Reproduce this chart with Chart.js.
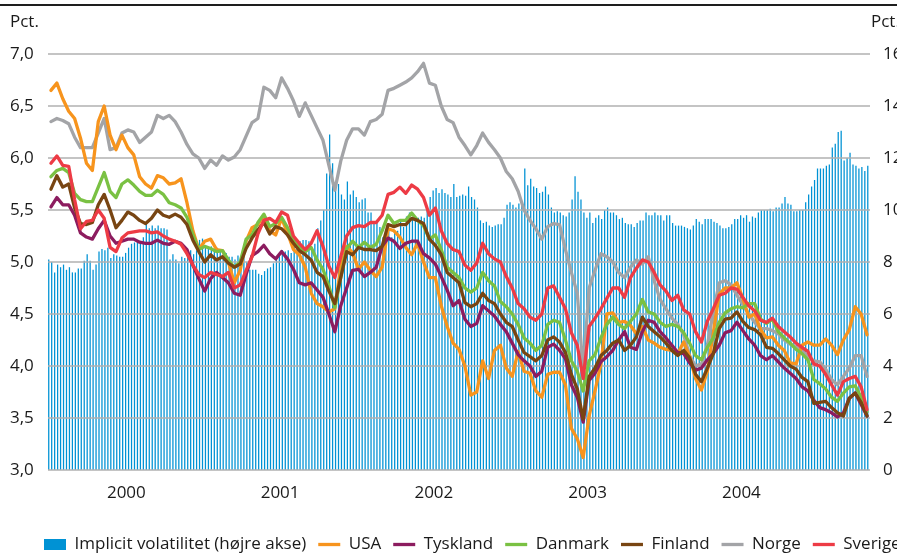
<!DOCTYPE html>
<html>
<head>
<meta charset="utf-8">
<script src="https://cdn.jsdelivr.net/npm/chart.js@4/dist/chart.umd.min.js"></script>
<style>
  html, body { margin: 0; padding: 0; background: #fff; overflow: hidden; }
  #wrap { width: 897px; height: 553px; overflow: hidden; position: relative; }
  canvas { display: block; }
</style>
</head>
<body>
<div id="wrap"><canvas id="chart" width="1000" height="563"></canvas></div>
<script>
// Weekly observations from the first Friday of 2000
const firstWeek = '2000-01-07';
const yearLabels = ['2000', '2001', '2002', '2003', '2004'];

// Implicit volatilitet, pct. (right axis), one value per week
const volatility = [
  8.1, 8.0, 7.6, 7.9, 7.8, 7.9, 7.7, 7.8, 7.6, 7.6,
  7.75, 7.75, 8.05, 8.3, 8.05, 7.7, 7.9, 8.4, 8.5, 8.45,
  8.55, 8.15, 8.3, 8.25, 8.2, 8.2, 8.35, 8.55, 8.7, 8.75,
  8.85, 8.75, 8.95, 9.55, 9.3, 9.4, 9.3, 9.4, 9.3, 9.3,
  9.25, 8.1, 8.3, 8.1, 7.95, 8.2, 8.15, 8.45, 8.45, 8.3,
  8.45, 8.85, 8.9, 8.65, 8.5, 8.6, 8.45, 8.55, 8.4, 8.4,
  8.35, 8.2, 8.2, 8.1, 8.25, 7.95, 8.35, 8.0, 7.7, 7.7,
  7.7, 7.55, 7.5, 7.65, 7.75, 7.8, 7.95, 8.2, 8.25, 8.45,
  8.4, 8.45, 8.35, 8.6, 8.75, 8.8, 8.85, 8.85, 8.8, 8.5,
  8.7, 9.3, 9.6, 10.0, 11.4, 12.9, 11.8, 10.9, 11.0, 10.6,
  10.4, 11.1, 10.6, 10.75, 10.5, 10.3, 10.4, 10.45, 9.9, 9.9,
  9.5, 9.5, 9.35, 8.95, 8.75, 9.2, 8.95, 9.2, 9.2, 9.6,
  9.35, 9.75, 9.9, 9.7, 9.7, 9.7, 9.75, 9.7, 10.1, 10.5,
  10.75, 10.85, 10.65, 10.8, 10.65, 10.6, 10.5, 11.0, 10.5, 10.55,
  10.6, 10.55, 10.9, 10.5, 10.4, 10.1, 9.6, 9.5, 9.55, 9.4,
  9.35, 9.4, 9.45, 9.45, 9.7, 10.2, 10.3, 10.2, 10.1, 10.25,
  10.2, 11.6, 10.95, 11.2, 10.9, 10.85, 10.65, 10.7, 10.9, 10.6,
  10.1, 9.9, 9.95, 9.9, 9.8, 9.75, 9.9, 10.4, 11.3, 10.7,
  10.4, 9.9, 9.7, 9.9, 9.5, 9.7, 9.8, 9.65, 10.0, 10.1,
  9.9, 9.9, 9.8, 9.65, 9.7, 9.5, 9.45, 9.45, 9.35, 9.5,
  9.6, 9.6, 9.9, 9.8, 9.8, 9.9, 9.8, 9.8, 9.6, 9.8,
  9.8, 9.5, 9.4, 9.4, 9.4, 9.35, 9.3, 9.25, 9.4, 9.65,
  9.55, 9.45, 9.65, 9.65, 9.65, 9.55, 9.5, 9.4, 9.3, 9.3,
  9.35, 9.45, 9.65, 9.65, 9.8, 9.7, 9.8, 9.55, 9.75, 9.7,
  9.9, 10.0, 10.0, 10.0, 10.05, 9.95, 10.1, 10.1, 10.25, 10.5,
  10.25, 10.2, 9.95, 9.95, 10.0, 10.0, 10.3, 10.6, 10.9, 11.15,
  11.6, 11.6, 11.6, 11.7, 11.75, 12.4, 12.55, 13.0, 13.05, 11.9,
  12.0, 12.2, 11.75, 11.7, 11.6, 11.65, 11.5, 11.7
];

// 10-year government bond yields, pct. (left axis), one value per fortnight
const usa = [
  6.65, 6.72, 6.57, 6.45, 6.38, 6.19, 5.95, 5.88, 6.35, 6.50,
  6.22, 6.08, 6.22, 6.10, 6.03, 5.82, 5.75, 5.71, 5.83, 5.81,
  5.75, 5.76, 5.80, 5.57, 5.30, 5.12, 5.20, 5.22, 5.12, 5.11,
  5.00, 4.80, 4.92, 5.20, 5.33, 5.36, 5.45, 5.30, 5.26, 5.42,
  5.28, 5.12, 5.07, 4.95, 4.70, 4.60, 4.57, 4.52, 4.55, 4.95,
  5.15, 5.09, 4.93, 5.00, 4.92, 4.86, 4.95, 5.32, 5.30, 5.24,
  5.14, 5.07, 5.18, 5.00, 4.85, 4.85, 4.58, 4.38, 4.22, 4.16,
  4.00, 3.72, 3.75, 4.05, 3.88, 4.15, 4.20, 3.98, 3.90, 4.14,
  3.95, 3.93, 3.76, 3.70, 3.92, 3.94, 3.94, 3.82, 3.40, 3.30,
  3.12, 3.52, 3.76, 4.02, 4.50, 4.51, 4.42, 4.43, 4.39, 4.31,
  4.38, 4.25, 4.22, 4.18, 4.16, 4.15, 4.12, 4.23, 4.09, 3.88,
  3.77, 3.95, 4.32, 4.69, 4.75, 4.75, 4.80, 4.65, 4.47, 4.50,
  4.35, 4.27, 4.28, 4.20, 4.15, 4.03, 4.02, 4.20, 4.23, 4.20,
  4.20, 4.26, 4.20, 4.11, 4.25, 4.35, 4.57, 4.50, 4.30
];
const tyskland = [
  5.53, 5.62, 5.55, 5.55, 5.45, 5.28, 5.24, 5.22, 5.32, 5.40,
  5.25, 5.18, 5.20, 5.22, 5.22, 5.19, 5.18, 5.18, 5.21, 5.18,
  5.17, 5.20, 5.18, 5.12, 4.97, 4.84, 4.72, 4.84, 4.90, 4.85,
  4.80, 4.70, 4.68, 4.88, 5.06, 5.10, 5.16, 5.08, 5.03, 5.10,
  5.03, 4.93, 4.80, 4.78, 4.80, 4.73, 4.66, 4.50, 4.33, 4.58,
  4.75, 4.92, 4.93, 4.86, 4.90, 4.95, 5.15, 5.23, 5.20, 5.13,
  5.18, 5.20, 5.20, 5.08, 5.04, 4.98, 4.86, 4.73, 4.58, 4.63,
  4.45, 4.38, 4.41, 4.58, 4.53, 4.48, 4.40, 4.33, 4.22, 4.11,
  4.05, 4.00, 3.90, 3.95, 4.18, 4.21, 4.15, 4.07, 3.82, 3.70,
  3.46, 3.86, 3.93, 4.04, 4.09, 4.15, 4.25, 4.33, 4.18, 4.16,
  4.33, 4.44, 4.42, 4.33, 4.27, 4.20, 4.13, 4.12, 4.03, 3.96,
  3.98, 4.06, 4.12, 4.20, 4.32, 4.34, 4.42, 4.34, 4.26, 4.20,
  4.10, 4.06, 4.10, 4.04, 3.98, 3.93, 3.88, 3.80, 3.76, 3.67,
  3.60, 3.58, 3.55, 3.51, 3.55, 3.69, 3.74, 3.63, 3.52
];
const danmark = [
  5.82, 5.88, 5.90, 5.86, 5.66, 5.60, 5.58, 5.58, 5.72, 5.86,
  5.68, 5.62, 5.75, 5.79, 5.74, 5.68, 5.64, 5.64, 5.69, 5.65,
  5.57, 5.55, 5.52, 5.43, 5.26, 5.12, 5.15, 5.13, 5.10, 5.11,
  5.02, 4.95, 5.00, 5.22, 5.26, 5.38, 5.46, 5.34, 5.37, 5.43,
  5.33, 5.22, 5.14, 5.10, 5.14, 5.02, 4.93, 4.77, 4.56, 4.85,
  5.13, 5.20, 5.14, 5.19, 5.14, 5.17, 5.30, 5.45, 5.37, 5.40,
  5.40, 5.47, 5.40, 5.35, 5.22, 5.26, 5.12, 4.95, 4.90, 4.85,
  4.75, 4.71, 4.75, 4.90, 4.82, 4.77, 4.62, 4.57, 4.50, 4.40,
  4.27, 4.22, 4.15, 4.20, 4.40, 4.44, 4.42, 4.25, 4.05, 3.95,
  3.76, 4.05, 4.11, 4.27, 4.40, 4.47, 4.40, 4.36, 4.43, 4.50,
  4.64, 4.52, 4.50, 4.42, 4.38, 4.40, 4.38, 4.32, 4.22, 4.10,
  4.06, 4.18, 4.27, 4.42, 4.51, 4.55, 4.57, 4.56, 4.60, 4.60,
  4.45, 4.41, 4.45, 4.33, 4.27, 4.22, 4.16, 4.12, 4.06, 3.87,
  3.83, 3.78, 3.70, 3.66, 3.74, 3.80, 3.81, 3.70, 3.56
];
const finland = [
  5.70, 5.83, 5.72, 5.75, 5.52, 5.37, 5.36, 5.38, 5.55, 5.65,
  5.50, 5.33, 5.40, 5.48, 5.45, 5.40, 5.37, 5.42, 5.50, 5.45,
  5.43, 5.46, 5.43, 5.36, 5.21, 5.10, 5.00, 5.07, 5.02, 5.05,
  4.99, 4.95, 4.98, 5.13, 5.23, 5.31, 5.38, 5.27, 5.34, 5.32,
  5.26, 5.18, 5.11, 5.07, 5.02, 4.90, 4.86, 4.72, 4.60, 4.85,
  5.10, 5.07, 5.14, 5.12, 5.12, 5.11, 5.15, 5.36, 5.34, 5.36,
  5.36, 5.42, 5.40, 5.37, 5.22, 5.16, 5.07, 4.90, 4.85, 4.80,
  4.61, 4.57, 4.60, 4.70, 4.63, 4.60, 4.50, 4.42, 4.38, 4.25,
  4.13, 4.09, 4.05, 4.10, 4.25, 4.28, 4.23, 4.13, 3.92, 3.78,
  3.49, 3.90, 3.98, 4.10, 4.15, 4.22, 4.25, 4.15, 4.20, 4.28,
  4.47, 4.38, 4.33, 4.28, 4.22, 4.15, 4.10, 4.15, 4.08, 3.92,
  3.85, 3.98, 4.12, 4.36, 4.45, 4.46, 4.52, 4.43, 4.37, 4.35,
  4.30, 4.18, 4.17, 4.12, 4.06, 4.00, 3.97, 3.89, 3.85, 3.64,
  3.65, 3.66, 3.60, 3.55, 3.52, 3.69, 3.74, 3.65, 3.52
];
const norge = [
  6.35, 6.38, 6.36, 6.33, 6.20, 6.10, 6.10, 6.10, 6.24, 6.38,
  6.08, 6.10, 6.24, 6.27, 6.25, 6.15, 6.20, 6.25, 6.41, 6.38,
  6.41, 6.35, 6.25, 6.13, 6.04, 6.00, 5.90, 5.98, 5.93, 6.02,
  5.98, 6.01, 6.08, 6.21, 6.34, 6.38, 6.68, 6.65, 6.58, 6.77,
  6.67, 6.55, 6.40, 6.53, 6.41, 6.29, 6.17, 5.93, 5.69, 5.97,
  6.17, 6.28, 6.28, 6.22, 6.35, 6.37, 6.42, 6.65, 6.67, 6.70,
  6.73, 6.77, 6.83, 6.91, 6.72, 6.70, 6.50, 6.37, 6.34, 6.20,
  6.12, 6.03, 6.12, 6.24, 6.15, 6.08, 6.00, 5.87, 5.80, 5.68,
  5.50, 5.40, 5.32, 5.22, 5.34, 5.37, 5.36, 5.12, 4.90, 4.70,
  3.95, 4.75, 4.92, 5.08, 5.05, 5.00, 4.90, 4.85, 4.95, 5.02,
  4.98, 5.05, 4.82, 4.64, 4.55, 4.46, 4.40, 4.30, 4.10, 4.00,
  4.02, 4.20, 4.52, 4.80, 4.82, 4.78, 4.68, 4.59, 4.50, 4.42,
  4.36, 4.36, 4.34, 4.31, 4.25, 4.21, 4.18, 4.15, 4.09, 4.05,
  4.04, 3.97, 3.87, 3.82, 3.90, 3.98, 4.10, 4.10, 3.90
];
const sverige = [
  5.95, 6.02, 5.93, 5.92, 5.60, 5.32, 5.39, 5.40, 5.50, 5.42,
  5.14, 5.10, 5.23, 5.28, 5.29, 5.30, 5.30, 5.28, 5.29, 5.25,
  5.22, 5.20, 5.17, 5.08, 4.97, 4.88, 4.85, 4.90, 4.88, 4.86,
  4.90, 4.75, 4.78, 4.92, 5.05, 5.27, 5.40, 5.42, 5.38, 5.48,
  5.45, 5.25, 5.18, 5.12, 5.18, 5.30, 5.15, 4.96, 4.85, 5.05,
  5.25, 5.33, 5.35, 5.34, 5.38, 5.38, 5.45, 5.65, 5.67, 5.72,
  5.66, 5.74, 5.70, 5.62, 5.45, 5.52, 5.30, 5.18, 5.12, 5.10,
  4.97, 4.92, 4.99, 5.18, 5.08, 5.03, 5.00, 4.86, 4.75, 4.60,
  4.55, 4.47, 4.44, 4.50, 4.75, 4.77, 4.66, 4.55, 4.32, 4.20,
  3.88, 4.38, 4.46, 4.55, 4.65, 4.75, 4.75, 4.66, 4.85, 4.94,
  5.02, 5.00, 4.90, 4.78, 4.72, 4.63, 4.68, 4.54, 4.50, 4.33,
  4.23, 4.43, 4.55, 4.68, 4.70, 4.75, 4.74, 4.66, 4.58, 4.53,
  4.44, 4.42, 4.46, 4.38, 4.33, 4.28, 4.22, 4.18, 4.14, 4.02,
  4.00, 3.92, 3.82, 3.72, 3.85, 3.88, 3.90, 3.80, 3.58
];

// Category labels: one per week for the bars, one per fortnight for the lines
const start = new Date(firstWeek + 'T00:00:00Z');
const weeks = volatility.map((_, i) => {
  const d = new Date(start.getTime() + i * 7 * 86400000);
  return d.toISOString().slice(0, 10);
});
const fortnights = usa.map((_, j) => weeks[2 * j]);

// Year label sits on the first week of July
function yearTick(i) {
  const w = weeks[i];
  const y = w.slice(0, 4);
  if (w.slice(5, 7) === '07' && +w.slice(8, 10) <= 7 && yearLabels.includes(y)) return y;
  return '';
}

const TEXT = '#1a1a1a';
const FONT = "'Open Sans', 'DejaVu Sans', sans-serif";
const SIZE = 17;
Chart.defaults.font.family = FONT;
Chart.defaults.font.size = SIZE;
Chart.defaults.color = TEXT;

const decor = {
  id: 'decor',
  afterDatasetDraw(chart, args) {
    if (args.index !== 0) return;
    // horizontal grid on top of the bars, under the lines
    const { ctx, chartArea: a, scales: { y } } = chart;
    ctx.save();
    ctx.strokeStyle = '#b0b0b0';
    ctx.lineWidth = 1.3;
    y.ticks.forEach(t => {
      const py = y.getPixelForValue(t.value);
      ctx.beginPath();
      ctx.moveTo(a.left, py);
      ctx.lineTo(a.right, py);
      ctx.stroke();
    });
    ctx.restore();
  },
  afterDraw(chart) {
    const { ctx, chartArea: a } = chart;
    ctx.save();
    ctx.fillStyle = '#1e1e1e';
    ctx.fillRect(0, 4, chart.width, 2);
    ctx.fillStyle = TEXT;
    ctx.font = SIZE + 'px ' + FONT;
    ctx.textBaseline = 'middle';
    ctx.textAlign = 'left';
    ctx.fillText('Pct.', 10, 22);
    ctx.fillText('Pct.', a.right + 1, 22);
    ctx.restore();
  }
};

function line(label, data, color, order) {
  return {
    type: 'line', label, data, xAxisID: 'xl', yAxisID: 'y',
    borderColor: color, backgroundColor: color, borderWidth: 3.3,
    pointRadius: 0, pointStyle: 'line', tension: 0, order,
    borderJoinStyle: 'round', borderCapStyle: 'round'
  };
}

new Chart(document.getElementById('chart'), {
  data: {
    labels: weeks,
    datasets: [
      {
        type: 'bar', label: 'Implicit volatilitet (højre akse)', data: volatility,
        xAxisID: 'x', yAxisID: 'y2', backgroundColor: '#0092d4', borderWidth: 0,
        categoryPercentage: 1.0, barPercentage: 0.86, pointStyle: 'rect', order: 10
      },
      line('USA', usa, '#f7941d', 5),
      line('Tyskland', tyskland, '#8c1c5f', 3),
      line('Danmark', danmark, '#7ac143', 4),
      line('Finland', finland, '#784512', 2),
      line('Norge', norge, '#a3a4a7', 6),
      line('Sverige', sverige, '#ed3b45', 1)
    ]
  },
  options: {
    responsive: false,
    devicePixelRatio: 1,
    animation: false,
    events: [],
    layout: { padding: { left: 32, right: 0, top: 54, bottom: 0 } },
    scales: {
      x: {
        type: 'category', position: 'bottom', offset: true,
        grid: { display: false, drawTicks: false }, border: { display: false },
        ticks: { autoSkip: false, maxRotation: 0, padding: 13, color: TEXT, callback: (v, i) => yearTick(i) },
        afterFit: s => { s.height = 54; }
      },
      xl: { type: 'category', labels: fortnights, offset: true, display: false },
      y: {
        position: 'left', min: 3, max: 7,
        grid: { display: false, drawTicks: false }, border: { display: false },
        ticks: { stepSize: 0.5, mirror: true, padding: -38, color: TEXT, callback: v => v.toFixed(1).replace('.', ',') },
        afterFit: s => { s.width = 16; }
      },
      y2: {
        position: 'right', min: 0, max: 16,
        grid: { display: false, drawTicks: false }, border: { display: false },
        ticks: { stepSize: 2, padding: 13, color: TEXT },
        afterFit: s => { s.width = 130; }
      }
    },
    plugins: {
      legend: {
        position: 'bottom', align: 'start',
        labels: {
          usePointStyle: true, pointStyleWidth: 22, boxHeight: 11, padding: 12,
          color: TEXT, font: { size: SIZE },
          sort: (a, b) => a.datasetIndex - b.datasetIndex
        }
      },
      tooltip: { enabled: false }
    }
  },
  plugins: [decor]
});
</script>
</body>
</html>
